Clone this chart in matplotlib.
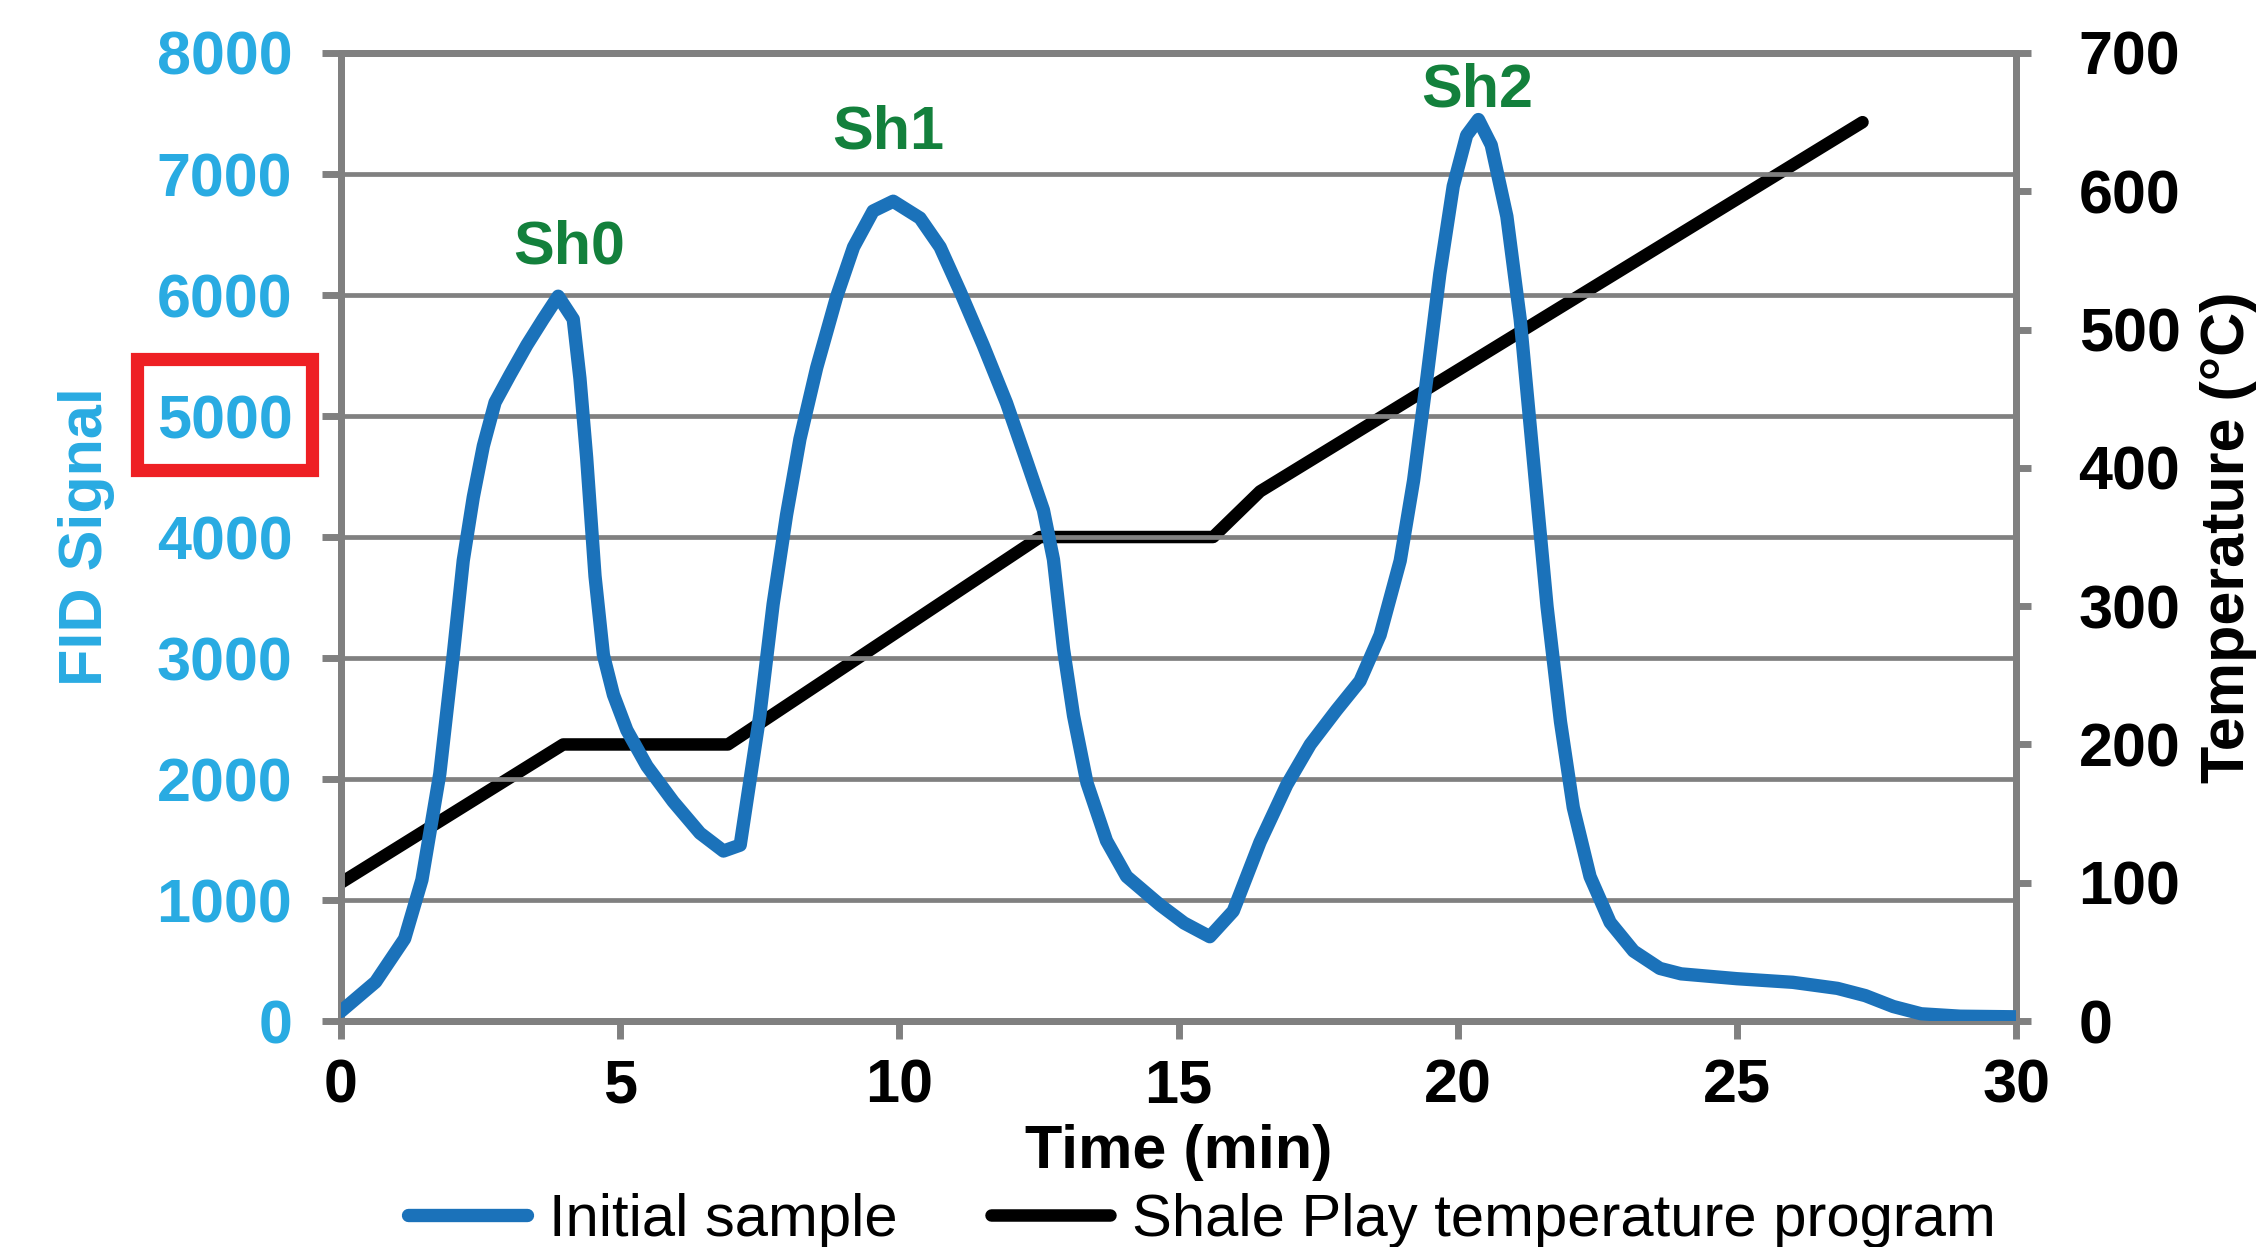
import matplotlib
matplotlib.use("Agg")
import matplotlib.pyplot as plt
from matplotlib.patches import Rectangle

# ---- data ----
time_fid = [0.0, 0.62, 1.14, 1.45, 1.77, 2.01, 2.19, 2.37, 2.55, 2.76, 3.03, 3.33, 3.62, 3.89,
            4.16, 4.28, 4.40, 4.55, 4.70, 4.88, 5.12, 5.48, 5.95, 6.43, 6.85, 7.15, 7.5, 7.74,
            7.98, 8.22, 8.52, 8.88, 9.18, 9.53, 9.89, 10.37, 10.73, 11.09, 11.5, 11.92, 12.28,
            12.58, 12.76, 12.94, 13.12, 13.36, 13.71, 14.07, 14.67, 15.1, 15.56, 15.98, 16.46,
            16.94, 17.36, 17.83, 18.25, 18.61, 18.97, 19.21, 19.45, 19.68, 19.92, 20.16, 20.37,
            20.6, 20.88, 21.12, 21.36, 21.6, 21.84, 22.07, 22.37, 22.73, 23.15, 23.62, 24.0,
            25.0, 26.0, 26.8, 27.3, 27.8, 28.3, 29.0, 30.0]
fid_signal = [80, 323, 680, 1167, 2043, 3022, 3806, 4330, 4753, 5113, 5342, 5587, 5800, 5990,
              5800, 5310, 4655, 3677, 3025, 2696, 2404, 2107, 1814, 1553, 1405, 1454, 2523, 3446,
              4183, 4810, 5400, 5990, 6396, 6694, 6775, 6636, 6396, 6028, 5587, 5107, 4628,
              4223, 3814, 3076, 2523, 1969, 1490, 1195, 959, 810, 697, 909, 1479,
              1953, 2286, 2570, 2810, 3190, 3804, 4468, 5322, 6176, 6900, 7320, 7450,
              7240, 6650, 5796, 4611, 3425, 2475, 1764, 1194, 815, 578, 435, 390,
              350, 320, 270, 210, 120, 60, 40, 35]

time_temp = [0.0, 3.98, 6.93, 12.52, 15.62, 16.46, 27.25]
temperature = [100, 200, 200, 350, 350, 383, 650]

x_ticks = [0, 5, 10, 15, 20, 25, 30]
fid_ticks = [0, 1000, 2000, 3000, 4000, 5000, 6000, 7000, 8000]
temp_ticks = [0, 100, 200, 300, 400, 500, 600, 700]

peak_labels = ["Sh0", "Sh1", "Sh2"]
peak_pos = [(4.08, 6385), (9.8, 7335), (20.35, 7685)]

# ---- style ----
BLUE_LINE = "#1B72BA"
BLUE_AX = "#29ABE2"
GREEN = "#13803C"
GRAY = "#808080"
plt.rcParams['font.family'] = ['Liberation Sans', 'DejaVu Sans']

fig = plt.figure(figsize=(22.64, 12.47), dpi=100)
ax = fig.add_axes([0.1506, 0.1812, 0.8905 - 0.1506, 0.9575 - 0.1812])
ax2 = ax.twinx()

ax.set_xlim(0, 30)
ax.set_ylim(0, 8000)
ax2.set_ylim(0, 700)

for a in (ax, ax2):
    for s in a.spines.values():
        s.set_color(GRAY)
        s.set_linewidth(5)
        s.set_capstyle('round')

ax.set_yticks(fid_ticks)
ax.set_xticks(x_ticks)
ax2.set_yticks(temp_ticks)
ax.grid(axis='y', color=GRAY, linewidth=3.4)
ax.set_axisbelow(True)

ax.tick_params(axis='y', direction='out', length=14, width=5, color=GRAY, pad=21,
               labelsize=44, labelcolor=BLUE_AX)
ax.tick_params(axis='x', direction='out', length=13, width=5, color=GRAY, pad=14,
               labelsize=44, labelcolor='black')
ax2.tick_params(axis='y', direction='out', length=11, width=5, color=GRAY, pad=34,
                labelsize=44, labelcolor='black')
for lbl in ax.get_yticklabels() + ax.get_xticklabels() + ax2.get_yticklabels():
    lbl.set_fontweight('bold')

ax.set_xlabel("Time (min)", fontsize=44, fontweight='bold', labelpad=6)
ax.set_ylabel("FID Signal", fontsize=44, fontweight='bold', color=BLUE_AX, labelpad=30)
ax2.set_ylabel("Temperature (°C)", fontsize=44, fontweight='bold', color='black', labelpad=14)

l2, = ax2.plot(time_temp, temperature, color='black', linewidth=9,
               solid_capstyle='round', solid_joinstyle='round', zorder=3,
               label="Shale Play temperature program")
l1, = ax.plot(time_fid, fid_signal, color=BLUE_LINE, linewidth=9.6,
              solid_capstyle='round', solid_joinstyle='round', zorder=4,
              label="Initial sample")
ax.set_zorder(ax2.get_zorder() + 1)
ax.patch.set_visible(False)

for name, (px, py) in zip(peak_labels, peak_pos):
    ax.text(px, py, name, color=GREEN, fontsize=44, fontweight='bold',
            ha='center', va='center')

# red highlight box around the 5000 label (figure pixels)
W, H = 2264, 1247
fig.patches.append(Rectangle((137 / W, 1 - 470 / H), (312 - 137) / W, (470 - 359) / H,
                             transform=fig.transFigure, fill=False,
                             edgecolor='#EE2024', linewidth=9.5))

leg = fig.legend(handles=[l1, l2], loc='center', bbox_to_anchor=(1202 / W, 0.021),
                 ncol=2, frameon=False, fontsize=43, handlelength=2.0,
                 handletextpad=0.37, columnspacing=1.55, borderpad=0)

fig.savefig("out.png", dpi=100)
